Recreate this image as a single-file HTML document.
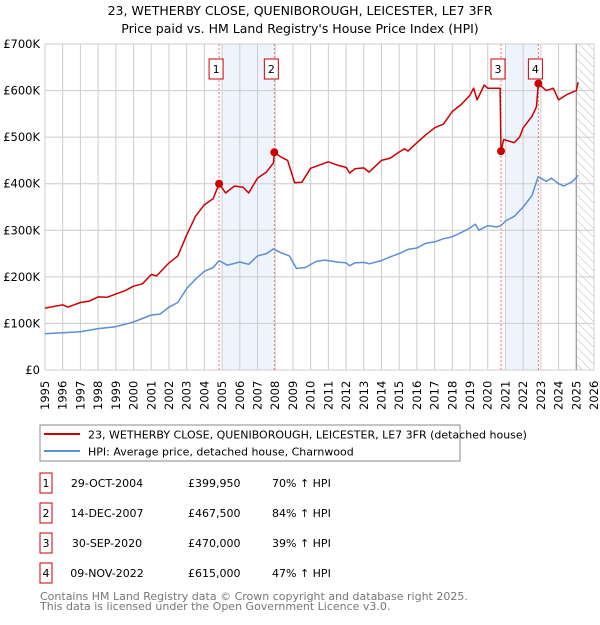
<!DOCTYPE html>
<html><head><meta charset="utf-8"><style>
body{margin:0;background:#fff;font-family:"Liberation Sans","DejaVu Sans",sans-serif;}
svg text{font-family:"DejaVu Sans","Liberation Sans",sans-serif;}
</style></head><body>
<svg id="c" width="600" height="620" xmlns="http://www.w3.org/2000/svg">
<defs><pattern id="hatch" width="6" height="6" patternUnits="userSpaceOnUse" patternTransform="rotate(-45)"><line x1="0" y1="0" x2="0" y2="6" stroke="#bbb" stroke-width="1"/></pattern></defs>
<text x="300" y="15" text-anchor="middle" font-size="12.5">23, WETHERBY CLOSE, QUENIBOROUGH, LEICESTER, LE7 3FR</text>
<text x="300" y="33" text-anchor="middle" font-size="12.5">Price paid vs. HM Land Registry's House Price Index (HPI)</text>
<g id="plot"></g>
<rect x="40" y="425" width="420" height="36" fill="#fff" stroke="#888"/>
<line x1="44" y1="434" x2="80" y2="434" stroke="#cc0000" stroke-width="2"/>
<text x="88" y="438.5" font-size="11">23, WETHERBY CLOSE, QUENIBOROUGH, LEICESTER, LE7 3FR (detached house)</text>
<line x1="44" y1="451" x2="80" y2="451" stroke="#5b8fd6" stroke-width="2"/>
<text x="88" y="455.5" font-size="11">HPI: Average price, detached house, Charnwood</text>
<g id="table" font-size="11"></g>
<text x="40" y="600" font-size="11" fill="#777">Contains HM Land Registry data © Crown copyright and database right 2025.</text>
<text x="40" y="610" font-size="11" fill="#777">This data is licensed under the Open Government Licence v3.0.</text>
</svg>
<script>
const yearTicks=[1995,1996,1997,1998,1999,2000,2001,2002,2003,2004,2005,2006,2007,2008,2009,2010,2011,2012,2013,2014,2015,2016,2017,2018,2019,2020,2021,2022,2023,2024,2025,2026];
const yTicks=[0,100,200,300,400,500,600,700];
const yTickLabels=["£0","£100K","£200K","£300K","£400K","£500K","£600K","£700K"];
const hpiT=[1995,1996,1997,1998,1999,2000,2001,2001.5,2002,2002.5,2003,2003.5,2004,2004.5,2004.83,2005.3,2006,2006.5,2007,2007.5,2007.9,2008.3,2008.8,2009.2,2009.7,2010.3,2010.8,2011.5,2012,2012.2,2012.5,2013,2013.3,2014,2014.5,2015,2015.5,2016,2016.5,2017,2017.5,2018,2018.5,2019,2019.3,2019.5,2020,2020.5,2020.75,2021,2021.5,2022,2022.5,2022.85,2023.3,2023.6,2024,2024.3,2024.8,2025.1];
const hpiV=[78,80,82,89,93,103,118,120,135,145,175,195,212,220,235,225,232,227,245,250,260,252,245,218,220,233,236,232,230,224,230,231,228,235,243,250,259,262,272,275,282,286,295,305,313,300,310,307,310,320,330,350,375,415,405,412,400,395,405,418];
const redT=[1995,1996,1996.3,1997,1997.5,1998,1998.5,1999,1999.5,2000,2000.5,2001,2001.3,2002,2002.5,2003,2003.5,2004,2004.5,2004.83,2005.2,2005.7,2006.2,2006.5,2007,2007.5,2007.9,2007.95,2008.3,2008.7,2009.1,2009.5,2010,2010.5,2011,2011.5,2012,2012.2,2012.5,2013,2013.3,2014,2014.5,2015,2015.3,2015.5,2016,2016.5,2017,2017.5,2018,2018.5,2019,2019.2,2019.4,2019.8,2020,2020.7,2020.75,2020.9,2021.5,2021.8,2022,2022.5,2022.75,2022.86,2023.3,2023.7,2024,2024.5,2025,2025.1];
const redV=[133,140,135,145,148,157,156,163,170,180,185,205,202,230,245,290,330,355,368,400,380,395,392,380,412,425,445,467.5,458,450,402,403,433,440,447,440,435,423,432,434,425,450,455,468,475,470,488,505,520,528,555,570,590,605,580,612,605,605,470,495,488,500,520,545,565,615,600,605,580,592,600,618];
const saleDates=[2004.83,2007.95,2020.75,2022.86];
const salePrices=[399.95,467.5,470,615];
const saleLabels=["1","2","3","4"];
const saleDateText=["29-OCT-2004","14-DEC-2007","30-SEP-2020","09-NOV-2022"];
const salePriceText=["£399,950","£467,500","£470,000","£615,000"];
const saleHpiText=["70% ↑ HPI","84% ↑ HPI","39% ↑ HPI","47% ↑ HPI"];
const shadeRanges=[[2005.0,2007.95],[2021.0,2022.86]];

const NS="http://www.w3.org/2000/svg";
const X0=45,X1=594,Y0=370,Y1=44;
const xs=t=>X0+(t-1995)/(2026-1995)*(X1-X0);
const ys=v=>Y0-v/700*(Y0-Y1);
const plot=document.getElementById('plot');
function mk(tag,at,parent){const e=document.createElementNS(NS,tag);for(const k in at)e.setAttribute(k,at[k]);(parent||plot).appendChild(e);return e;}
shadeRanges.forEach((r,i)=>{const e=mk('rect',{x:xs(r[0]),y:Y1,width:xs(r[1])-xs(r[0]),height:Y0-Y1,fill:'#eef3fc'});

});
const hz=mk('rect',{x:xs(2025),y:Y1,width:xs(2026)-xs(2025),height:Y0-Y1,fill:'url(#hatch)'});


yearTicks.forEach(t=>{const l=mk('line',{x1:xs(t),x2:xs(t),y1:Y1,y2:Y0,stroke:'#ccc','stroke-width':1});


const tx=mk('text',{x:0,y:0,'font-size':11.5,transform:`translate(${xs(t)+4},410) rotate(-90)`});tx.textContent=t;

});
yTicks.forEach((v,i)=>{const l=mk('line',{x1:X0,x2:X1,y1:ys(v),y2:ys(v),stroke:'#ccc','stroke-width':1});


const tx=mk('text',{x:X0-5,y:ys(v)+4,'text-anchor':'end','font-size':11.5});tx.textContent=yTickLabels[i];

});
const nl=mk('line',{x1:xs(2025),x2:xs(2025),y1:Y1,y2:Y0,stroke:'#999','stroke-width':1.2});


saleDates.forEach((d,i)=>{const l=mk('line',{x1:xs(d),x2:xs(d),y1:Y1,y2:Y0,stroke:'#f07070','stroke-width':1,'stroke-dasharray':'2,2'});


const r=mk('rect',{x:xs(d)-10,y:59,width:14,height:20,fill:'#fff',stroke:'#cc0000'});


const tx=mk('text',{x:xs(d)-3,y:73,'text-anchor':'middle','font-size':11});tx.textContent=saleLabels[i];

});
function path(T,V,col,name){const d=T.map((t,i)=>(i?'L':'M')+xs(t).toFixed(1)+','+ys(V[i]).toFixed(1)).join('');
const p=mk('path',{d:d,fill:'none',stroke:col,'stroke-width':1.5,'stroke-linejoin':'round'});

}
path(hpiT,hpiV,'#5b8fd6','hpi-line');
path(redT,redV,'#cc0000','property-price-line');
saleDates.forEach((d,i)=>{const c=mk('circle',{cx:xs(d),cy:ys(salePrices[i]),r:4,fill:'#cc0000'});

});
const tb=document.getElementById('table');
saleDates.forEach((d,i)=>{const y=483+i*30;
const r=mk('rect',{x:40,y:y-10,width:12,height:20,fill:'#fff',stroke:'#cc0000'},tb);


const cols=[[46,saleLabels[i],'middle'],[107,saleDateText[i],'middle'],[188,salePriceText[i],'start'],[272,saleHpiText[i],'start']];
cols.forEach(c=>{const tx=mk('text',{x:c[0],y:y+4,'text-anchor':c[2]},tb);tx.textContent=c[1];

});});
</script>
</body></html>
